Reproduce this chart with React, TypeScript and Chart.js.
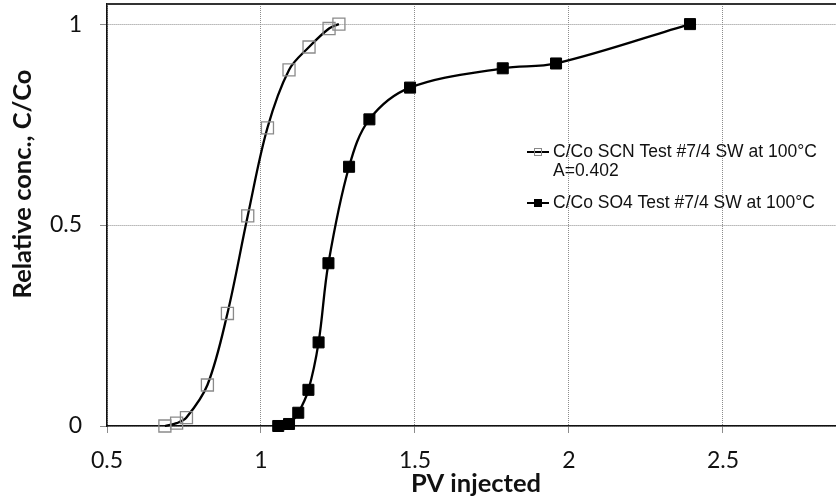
import React, { useEffect, useRef } from 'react';
import { Chart, registerables } from 'chart.js';

Chart.register(...registerables);

// Data
const scnX = [0.688, 0.726, 0.758, 0.826, 0.891, 0.957, 1.021, 1.091, 1.156, 1.221, 1.253];
const scnY = [0, 0.007, 0.021, 0.102, 0.28, 0.523, 0.742, 0.886, 0.943, 0.989, 1.0];
const so4X = [1.056, 1.091, 1.121, 1.154, 1.187, 1.219, 1.286, 1.352, 1.484, 1.785, 1.958, 2.393];
const so4Y = [0, 0.005, 0.033, 0.09, 0.208, 0.405, 0.645, 0.763, 0.842, 0.89, 0.902, 1.0];

const xMin = 0.5;
const xMax = 2.867;
const yMin = 0;
const yMax = 1.05;
const xStep = 0.5;
const yStep = 0.5;

const scnLabel = ['C/Co SCN Test #7/4 SW at 100°C', 'A=0.402'];
const so4Label = ['C/Co SO4 Test #7/4 SW at 100°C'];
const xTitle = 'PV injected';
const yTitle = 'Relative conc., C/Co';

const TICK_FONT = 'Lato';
const LEGEND_FONT = '"Liberation Sans", Arial, sans-serif';

const toPoints = (xs: number[], ys: number[]) => xs.map((x, i) => ({ x, y: ys[i] }));
const fmt = (v: any) => String(Math.round(Number(v) * 100) / 100);

const decorPlugin = {
  id: 'decor',
  afterDraw(chart: any) {
    const { ctx, chartArea } = chart;
    ctx.save();
    // top frame line
    ctx.strokeStyle = '#333';
    ctx.lineWidth = 2;
    ctx.beginPath();
    ctx.moveTo(chartArea.left, chartArea.top);
    ctx.lineTo(chartArea.right, chartArea.top);
    ctx.stroke();

    // legend
    const lx0 = 527;
    const lx1 = 549;
    const tx = 553;
    ctx.font = `17.5px ${LEGEND_FONT}`;
    ctx.fillStyle = '#111';
    ctx.textBaseline = 'middle';
    ctx.textAlign = 'left';

    const entries = [
      { lines: scnLabel, y: 152, filled: false },
      { lines: so4Label, y: 203, filled: true },
    ];
    entries.forEach((e) => {
      ctx.strokeStyle = '#000';
      ctx.lineWidth = 2;
      ctx.beginPath();
      ctx.moveTo(lx0, e.y);
      ctx.lineTo(lx1, e.y);
      ctx.stroke();
      const cx = (lx0 + lx1) / 2;
      if (e.filled) {
        ctx.fillStyle = '#000';
        ctx.fillRect(cx - 4, e.y - 4, 8, 8);
      } else {
        ctx.strokeStyle = '#888';
        ctx.lineWidth = 1;
        ctx.strokeRect(cx - 3.5, e.y - 3.5, 7, 7);
      }
      ctx.fillStyle = '#111';
      e.lines.forEach((t, i) => ctx.fillText(t, tx, e.y + i * 19.5));
    });

    // axis titles
    ctx.fillStyle = '#111';
    ctx.font = `bold 25.5px ${TICK_FONT}`;
    ctx.textAlign = 'center';
    ctx.textBaseline = 'alphabetic';
    ctx.fillText(xTitle, 476, 492);

    ctx.translate(31, 184);
    ctx.rotate(-Math.PI / 2);
    ctx.fillText(yTitle, 0, 0);
    ctx.restore();
  },
};

export default function App() {
  const canvasRef = useRef<HTMLCanvasElement | null>(null);

  useEffect(() => {
    document.body.style.margin = '0';
    const canvas = canvasRef.current;
    if (!canvas) return;
    const chart = new Chart(canvas, {
      type: 'scatter',
      data: {
        datasets: [
          {
            label: scnLabel.join(' '),
            data: toPoints(scnX, scnY),
            showLine: true,
            tension: 0.35,
            borderColor: '#000',
            borderWidth: 2.3,
            pointStyle: 'rect',
            pointRadius: 8.5,
            pointBorderColor: '#8a8a8a',
            pointBorderWidth: 1.3,
            pointBackgroundColor: 'rgba(0,0,0,0)',
            clip: false,
          },
          {
            label: so4Label.join(' '),
            data: toPoints(so4X, so4Y),
            showLine: true,
            tension: 0.35,
            borderColor: '#000',
            borderWidth: 2.3,
            pointStyle: 'rect',
            pointRadius: 7.8,
            pointBorderColor: '#000',
            pointBorderWidth: 1,
            pointBackgroundColor: '#000',
            clip: false,
          },
        ],
      },
      options: {
        animation: false,
        responsive: false,
        devicePixelRatio: 1,
        layout: { autoPadding: false, padding: { top: 4, right: 0, left: 0, bottom: 0 } },
        plugins: {
          legend: { display: false },
          tooltip: { enabled: false },
          title: { display: false },
        },
        scales: {
          x: {
            type: 'linear',
            min: xMin,
            max: xMax,
            afterFit: (s: any) => {
              s.height = 73;
              s.paddingLeft = 0;
              s.paddingRight = 0;
            },
            ticks: {
              stepSize: xStep,
              includeBounds: false,
              maxRotation: 0,
              padding: 14,
              color: '#111',
              callback: fmt,
              font: { family: TICK_FONT, size: 23 },
            },
            grid: {
              color: '#8c8c8c',
              lineWidth: 1,
              tickLength: 7,
              tickColor: '#8c8c8c',
            },
            border: { display: true, color: '#111', width: 1.6, dash: [1, 1] },
          },
          y: {
            type: 'linear',
            min: yMin,
            max: yMax,
            afterFit: (s: any) => {
              s.width = 107;
              s.paddingTop = 0;
              s.paddingBottom = 0;
            },
            ticks: {
              stepSize: yStep,
              includeBounds: false,
              padding: 18,
              color: '#111',
              callback: fmt,
              font: { family: TICK_FONT, size: 23 },
            },
            grid: {
              color: '#8c8c8c',
              lineWidth: 1,
              tickLength: 7,
              tickColor: '#8c8c8c',
            },
            border: { display: true, color: '#111', width: 1.6, dash: [1, 1] },
          },
        },
      },
      plugins: [decorPlugin],
    } as any);
    return () => chart.destroy();
  }, []);

  return (
    <div style={{ position: 'absolute', left: 0, top: 0, width: 836, height: 499, background: '#fff' }}>
      <canvas ref={canvasRef} width={836} height={499} />
    </div>
  );
}
